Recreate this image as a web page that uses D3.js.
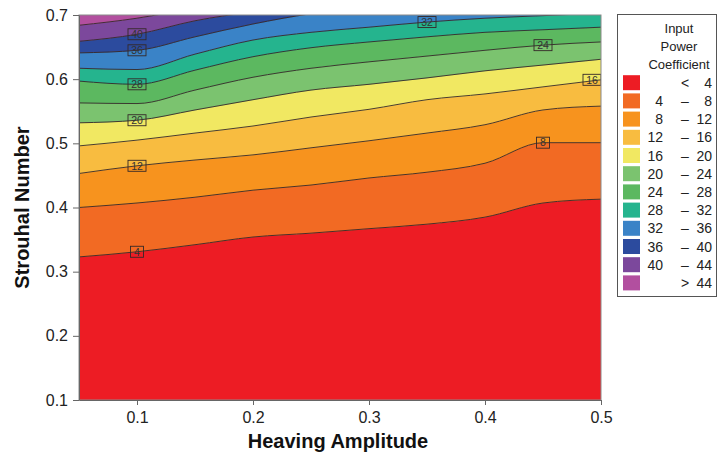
<!DOCTYPE html>
<html><head><meta charset="utf-8">
<script src="https://cdn.jsdelivr.net/npm/d3@7"></script>
<style>
html,body{margin:0;padding:0;background:#fff;}
svg{display:block;font-family:"Liberation Sans",Arial,sans-serif;}
</style></head>
<body>
<svg id="chart" width="720" height="454"></svg>
<script>
// Heaving amplitude sample positions
const amplitude = [0.05, 0.10, 0.15, 0.20, 0.25, 0.30, 0.35, 0.40, 0.45, 0.50];
// Strouhal number of each contour line (input power coefficient level) at each amplitude
const st4  = [0.323, 0.331, 0.342, 0.354, 0.360, 0.367, 0.374, 0.385, 0.407, 0.413];
const st8  = [0.400, 0.407, 0.416, 0.427, 0.435, 0.446, 0.455, 0.469, 0.501, 0.501];
const st12 = [0.453, 0.465, 0.474, 0.482, 0.493, 0.504, 0.516, 0.529, 0.552, 0.558];
const st16 = [0.496, 0.505, 0.516, 0.527, 0.541, 0.553, 0.568, 0.577, 0.588, 0.599];
const st20 = [0.532, 0.536, 0.552, 0.568, 0.583, 0.592, 0.602, 0.613, 0.622, 0.631];
const st24 = [0.563, 0.562, 0.583, 0.603, 0.617, 0.627, 0.636, 0.645, 0.653, 0.658];
const st28 = [0.597, 0.592, 0.614, 0.635, 0.649, 0.658, 0.666, 0.673, 0.677, 0.681];
const st32 = [0.617, 0.615, 0.639, 0.661, 0.673, 0.681, 0.689, 0.695, 0.699, 0.703];
const st36 = [0.641, 0.645, 0.666, 0.686, 0.702, 0.712, 0.720, 0.728, 0.735, 0.740];
const st40 = [0.659, 0.670, 0.691, 0.705, 0.715, 0.725, 0.735, 0.745, 0.755, 0.765];
const st44 = [0.684, 0.695, 0.711, 0.725, 0.735, 0.745, 0.755, 0.765, 0.775, 0.785];
const levels = [4, 8, 12, 16, 20, 24, 28, 32, 36, 40, 44];
const levelLines = [st4, st8, st12, st16, st20, st24, st28, st32, st36, st40, st44];

// Band colours (<4 ... >44)
const bandColors = ["#ed1c24","#f26a23","#f7931e","#f8bc40","#f1e862","#7bc36f","#5cb860","#25b48e","#3a83c7","#2c4b9e","#7c489c","#b24f9f"];
const legendLow  = ["", "4", "8", "12", "16", "20", "24", "28", "32", "36", "40", ""];
const legendMid  = ["<", "\u2013", "\u2013", "\u2013", "\u2013", "\u2013", "\u2013", "\u2013", "\u2013", "\u2013", "\u2013", ">"];
const legendHigh = ["4", "8", "12", "16", "20", "24", "28", "32", "36", "40", "44", "44"];

// Contour label placement (level, amplitude)
const labelLevels = [4, 12, 20, 28, 36, 40, 32, 24, 16, 8];
const labelAmps   = [0.10, 0.10, 0.10, 0.10, 0.10, 0.10, 0.35, 0.45, 0.50, 0.45];

const xTicks = [0.1, 0.2, 0.3, 0.4, 0.5];
const yTicks = [0.1, 0.2, 0.3, 0.4, 0.5, 0.6, 0.7];

const svg = d3.select("#chart");
const L = 79, R = 601, T = 15, B = 400;
const x = d3.scaleLinear().domain([0.05, 0.5]).range([L, R]);
const y = d3.scaleLinear().domain([0.1, 0.7]).range([B, T]);

svg.append("defs").append("clipPath").attr("id", "clip")
  .append("rect").attr("x", L).attr("y", T).attr("width", R - L).attr("height", B - T);

const plot = svg.append("g").attr("clip-path", "url(#clip)");
const curve = d3.curveMonotoneX;

const idx = d3.range(amplitude.length);
bandColors.forEach((c, i) => {
  const lower = i === 0 ? null : levelLines[i - 1];
  const upper = i === bandColors.length - 1 ? null : levelLines[i];
  const area = d3.area().curve(curve)
    .x(j => x(amplitude[j]))
    .y0(j => lower ? y(lower[j]) : y(0.1) + 2)
    .y1(j => upper ? y(upper[j]) : y(0.7) - 40);
  plot.append("path").attr("d", area(idx)).attr("fill", c).attr("stroke", c).attr("stroke-width", 0.5);
});

const line = d3.line().curve(curve).x(j => x(amplitude[j]));
levelLines.forEach(arr => {
  plot.append("path")
    .attr("d", line.y(j => y(arr[j]))(idx))
    .attr("fill", "none").attr("stroke", "#352828").attr("stroke-width", 0.9);
});

// contour labels
labelLevels.forEach((lv, k) => {
  const arr = levelLines[levels.indexOf(lv)];
  const j = amplitude.indexOf(labelAmps[k]);
  const txt = String(lv);
  const w = txt.length === 1 ? 13 : 18, h = 11;
  let cx = x(labelAmps[k]);
  cx = Math.min(cx, R - w / 2);
  const cy = y(arr[j]);
  const g = plot.append("g");
  g.append("rect").attr("x", cx - w / 2).attr("y", cy - h / 2).attr("width", w).attr("height", h)
    .attr("fill", "none").attr("stroke", "#352828").attr("stroke-width", 0.9);
  g.append("text").attr("x", cx).attr("y", cy + 3.8).attr("text-anchor", "middle")
    .attr("font-size", 10.5).attr("fill", "#333").text(txt);
});

// frame
svg.append("rect").attr("x", L).attr("y", T).attr("width", R - L).attr("height", B - T)
  .attr("fill", "none").attr("stroke", "#8a8a8a").attr("stroke-width", 1);

// axes
const xAxis = svg.append("g").attr("transform", `translate(0,${B})`)
  .call(d3.axisBottom(x).tickValues(xTicks).tickFormat(d3.format(".1f")).tickSize(5).tickSizeOuter(0).tickPadding(7));
const yAxis = svg.append("g").attr("transform", `translate(${L},0)`)
  .call(d3.axisLeft(y).tickValues(yTicks).tickFormat(d3.format(".1f")).tickSize(6).tickSizeOuter(0).tickPadding(5));
[xAxis, yAxis].forEach(a => {
  a.select(".domain").attr("stroke", "#666");
  a.selectAll(".tick line").attr("stroke", "#666");
  a.selectAll(".tick text").attr("font-size", 16).attr("fill", "#222")
    .attr("font-family", "'Liberation Sans',Arial,sans-serif");
});

svg.append("text").attr("x", (L + R) / 2 - 2).attr("y", 448).attr("text-anchor", "middle")
  .attr("font-size", 20).attr("font-weight", "bold").attr("fill", "#111").text("Heaving Amplitude");
svg.append("text").attr("transform", `translate(29,${(T + B) / 2}) rotate(-90)`).attr("text-anchor", "middle")
  .attr("font-size", 20).attr("font-weight", "bold").attr("fill", "#111").text("Strouhal Number");

// legend
const lg = svg.append("g");
lg.append("rect").attr("x", 617.5).attr("y", 14.5).attr("width", 99).attr("height", 282)
  .attr("fill", "#fff").attr("stroke", "#555").attr("stroke-width", 1);
["Input", "Power", "Coefficient"].forEach((t, i) => {
  lg.append("text").attr("x", 679).attr("y", 33 + i * 18).attr("text-anchor", "middle")
    .attr("font-size", 13).attr("fill", "#222").text(t);
});
bandColors.forEach((c, i) => {
  const cy = 82.7 + i * 18.2;
  lg.append("rect").attr("x", 623).attr("y", cy - 7.5).attr("width", 17).attr("height", 15).attr("fill", c);
  lg.append("text").attr("x", 663).attr("y", cy + 5).attr("text-anchor", "end").attr("font-size", 14).attr("fill", "#222").text(legendLow[i]);
  lg.append("text").attr("x", 685).attr("y", cy + 5).attr("text-anchor", "middle").attr("font-size", 14).attr("fill", "#222").text(legendMid[i]);
  lg.append("text").attr("x", 712).attr("y", cy + 5).attr("text-anchor", "end").attr("font-size", 14).attr("fill", "#222").text(legendHigh[i]);
});
</script>
</body></html>
